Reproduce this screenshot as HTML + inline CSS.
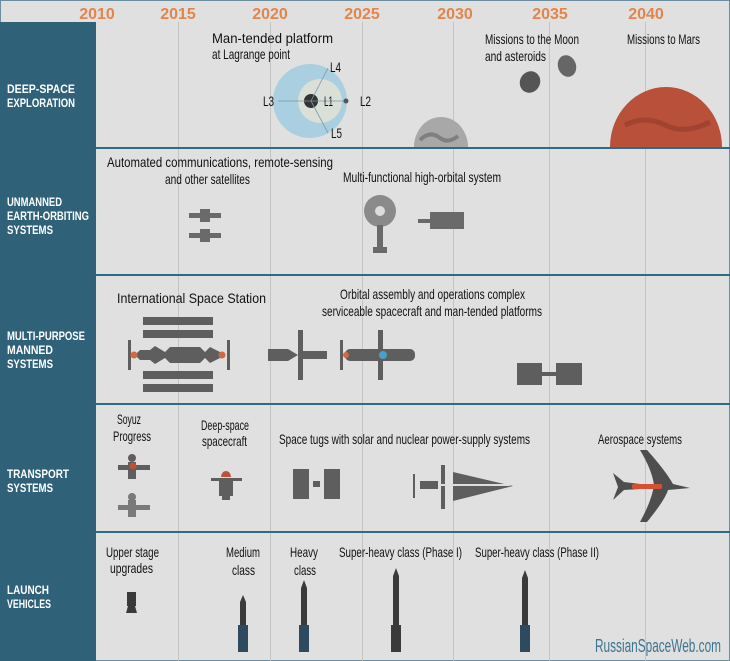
<!DOCTYPE html>
<html><head><meta charset="utf-8"><style>
html,body{margin:0;padding:0;background:#e0e0e0}
svg{display:block}
.t{font-family:"Liberation Sans",sans-serif;font-size:14px;fill:#111}
.l{font-family:"Liberation Sans",sans-serif;font-size:12px;font-weight:bold;fill:#fff}
.y{font-family:"Liberation Sans",sans-serif;font-size:16px;font-weight:bold;fill:#e3854a}
</style></head><body>
<svg width="730" height="661" viewBox="0 0 730 661" xmlns="http://www.w3.org/2000/svg">
<rect x="0" y="0" width="730" height="661" fill="#e0e0e0"/>
<rect x="0.5" y="0.5" width="729" height="660" fill="none" stroke="#6a8ea0"/>
<rect x="0" y="22" width="96" height="639" fill="#2f6179"/>
<g stroke="#c4c4c4" stroke-width="1">
<line x1="178.5" y1="22" x2="178.5" y2="661"/>
<line x1="270.5" y1="22" x2="270.5" y2="661"/>
<line x1="362.5" y1="22" x2="362.5" y2="661"/>
<line x1="453.5" y1="22" x2="453.5" y2="661"/>
<line x1="549.5" y1="22" x2="549.5" y2="661"/>
<line x1="645.5" y1="22" x2="645.5" y2="661"/>
</g>
<g stroke="#2f6a86" stroke-width="2">
<line x1="96" y1="148" x2="730" y2="148"/>
<line x1="96" y1="275" x2="730" y2="275"/>
<line x1="96" y1="404" x2="730" y2="404"/>
<line x1="96" y1="532" x2="730" y2="532"/>
</g>
<text class="y" x="97" y="19" text-anchor="middle">2010</text>
<text class="y" x="178" y="19" text-anchor="middle">2015</text>
<text class="y" x="270" y="19" text-anchor="middle">2020</text>
<text class="y" x="362" y="19" text-anchor="middle">2025</text>
<text class="y" x="455" y="19" text-anchor="middle">2030</text>
<text class="y" x="550" y="19" text-anchor="middle">2035</text>
<text class="y" x="646" y="19" text-anchor="middle">2040</text>
<text class="l" lengthAdjust="spacingAndGlyphs" x="7" y="93" textLength="68">DEEP-SPACE</text>
<text class="l" lengthAdjust="spacingAndGlyphs" x="7" y="107" textLength="68">EXPLORATION</text>
<text class="l" lengthAdjust="spacingAndGlyphs" x="7" y="206" textLength="55">UNMANNED</text>
<text class="l" lengthAdjust="spacingAndGlyphs" x="7" y="220" textLength="82">EARTH-ORBITING</text>
<text class="l" lengthAdjust="spacingAndGlyphs" x="7" y="234" textLength="46">SYSTEMS</text>
<text class="l" lengthAdjust="spacingAndGlyphs" x="7" y="340" textLength="78">MULTI-PURPOSE</text>
<text class="l" lengthAdjust="spacingAndGlyphs" x="7" y="354" textLength="46">MANNED</text>
<text class="l" lengthAdjust="spacingAndGlyphs" x="7" y="368" textLength="46">SYSTEMS</text>
<text class="l" lengthAdjust="spacingAndGlyphs" x="7" y="478" textLength="62">TRANSPORT</text>
<text class="l" lengthAdjust="spacingAndGlyphs" x="7" y="492" textLength="46">SYSTEMS</text>
<text class="l" lengthAdjust="spacingAndGlyphs" x="7" y="594" textLength="42">LAUNCH</text>
<text class="l" lengthAdjust="spacingAndGlyphs" x="7" y="608" textLength="44">VEHICLES</text>
<text class="t" lengthAdjust="spacingAndGlyphs" x="212" y="43" textLength="121">Man-tended platform</text>
<text class="t" lengthAdjust="spacingAndGlyphs" x="212" y="59" textLength="78">at Lagrange point</text>
<text class="t" lengthAdjust="spacingAndGlyphs" x="485" y="44" textLength="94">Missions to the Moon</text>
<text class="t" lengthAdjust="spacingAndGlyphs" x="485" y="61" textLength="61">and asteroids</text>
<text class="t" lengthAdjust="spacingAndGlyphs" x="627" y="44" textLength="73">Missions to Mars</text>
<circle cx="310" cy="101" r="37" fill="#a9cfe0"/>
<circle cx="320" cy="101" r="22" fill="#e6e2d6" opacity="0.8"/>
<circle cx="311" cy="101" r="7" fill="#333"/>
<g stroke="#7a98a8" stroke-width="0.8"><line x1="278" y1="101" x2="346" y2="101"/><line x1="311" y1="101" x2="328" y2="68"/><line x1="311" y1="101" x2="328" y2="133"/></g>
<circle cx="346" cy="101" r="2.5" fill="#555"/>
<text class="t" lengthAdjust="spacingAndGlyphs" x="330" y="72" font-size="11" textLength="11">L4</text>
<text class="t" lengthAdjust="spacingAndGlyphs" x="263" y="106" font-size="11" textLength="11">L3</text>
<text class="t" lengthAdjust="spacingAndGlyphs" x="324" y="106" font-size="11" textLength="9">L1</text>
<text class="t" lengthAdjust="spacingAndGlyphs" x="360" y="106" font-size="11" textLength="11">L2</text>
<text class="t" lengthAdjust="spacingAndGlyphs" x="331" y="138" font-size="11" textLength="11">L5</text>
<path d="M414 147 A27 30 0 0 1 468 147 Z" fill="#a8a8a8"/>
<path d="M420 140 q10 -10 20 -2 q8 6 18 -2" stroke="#555" stroke-width="4" fill="none" opacity="0.5"/>
<ellipse cx="530" cy="82" rx="10" ry="11" fill="#555" transform="rotate(30 530 82)"/>
<ellipse cx="567" cy="66" rx="9" ry="11" fill="#666" transform="rotate(-20 567 66)"/>
<path d="M610 147 A56 60 0 0 1 722 147 Z" fill="#b8503a"/>
<path d="M625 125 q20 -10 40 0 q20 10 45 -3" stroke="#8a3525" stroke-width="5" fill="none" opacity="0.5"/>
<text class="t" lengthAdjust="spacingAndGlyphs" x="107" y="167" textLength="226">Automated communications, remote-sensing</text>
<text class="t" lengthAdjust="spacingAndGlyphs" x="165" y="184" textLength="85">and other satellites</text>
<text class="t" lengthAdjust="spacingAndGlyphs" x="343" y="182" textLength="158">Multi-functional high-orbital system</text>
<g fill="#6a6a6a">
<rect x="189" y="213" width="32" height="5"/><rect x="200" y="209" width="10" height="13"/>
<rect x="189" y="233" width="32" height="5"/><rect x="200" y="229" width="10" height="13"/>
<circle cx="380" cy="211" r="16" fill="#8a8a8a"/><circle cx="380" cy="211" r="5" fill="#ddd"/>
<rect x="377" y="225" width="6" height="28"/><rect x="373" y="247" width="14" height="6"/>
<rect x="418" y="219" width="12" height="4"/>
<rect x="430" y="212" width="34" height="17"/>
</g>
<text class="t" lengthAdjust="spacingAndGlyphs" x="117" y="303" textLength="149">International Space Station</text>
<text class="t" lengthAdjust="spacingAndGlyphs" x="340" y="299" textLength="185">Orbital assembly and operations complex</text>
<text class="t" lengthAdjust="spacingAndGlyphs" x="322" y="316" textLength="220">serviceable spacecraft and man-tended platforms</text>
<g fill="#5e5e5e">
<rect x="143" y="317" width="70" height="8"/><rect x="143" y="330" width="70" height="8"/>
<rect x="143" y="371" width="70" height="8"/><rect x="143" y="384" width="70" height="8"/>
<rect x="128" y="340" width="3" height="30"/><rect x="227" y="340" width="3" height="30"/>
<path d="M135 355 L140 350 L150 350 L155 346 L165 352 L170 347 L200 347 L205 352 L210 347 L220 352 L225 355 L220 358 L210 363 L205 358 L200 363 L170 363 L165 358 L155 364 L150 360 L140 360 Z"/>
<circle cx="134" cy="355" r="3.5" fill="#d06a40"/><circle cx="222" cy="355" r="3.5" fill="#d06a40"/>
<rect x="268" y="349" width="20" height="12"/><path d="M288 349 L298 355 L288 361 Z"/>
<rect x="298" y="330" width="5" height="50"/><rect x="303" y="351" width="24" height="8"/>
<rect x="340" y="340" width="3" height="30"/><rect x="345" y="349" width="70" height="12" rx="5"/>
<rect x="378" y="330" width="5" height="50"/>
<circle cx="383" cy="355" r="4" fill="#4aa0c8"/><circle cx="346" cy="355" r="3" fill="#d06a40"/>
<rect x="517" y="363" width="25" height="22"/><rect x="542" y="372" width="14" height="4"/><rect x="556" y="363" width="26" height="22"/>
</g>
<text class="t" lengthAdjust="spacingAndGlyphs" x="117" y="424" textLength="24">Soyuz</text>
<text class="t" lengthAdjust="spacingAndGlyphs" x="113" y="441" textLength="38">Progress</text>
<text class="t" lengthAdjust="spacingAndGlyphs" x="201" y="430" textLength="48">Deep-space</text>
<text class="t" lengthAdjust="spacingAndGlyphs" x="202" y="446" textLength="45">spacecraft</text>
<text class="t" lengthAdjust="spacingAndGlyphs" x="279" y="444" textLength="251">Space tugs with solar and nuclear power-supply systems</text>
<text class="t" lengthAdjust="spacingAndGlyphs" x="598" y="444" textLength="84">Aerospace systems</text>
<g fill="#5e5e5e">
<circle cx="132" cy="458" r="4"/><rect x="118" y="465" width="32" height="5"/><rect x="128" y="462" width="8" height="17"/>
<circle cx="133" cy="466" r="3.5" fill="#c0503a"/>
<g fill="#7a7a7a"><circle cx="132" cy="497" r="4"/><rect x="118" y="505" width="32" height="5"/><rect x="128" y="500" width="8" height="17"/></g>
<rect x="211" y="478" width="31" height="3"/><rect x="219" y="481" width="14" height="15"/><rect x="222" y="496" width="8" height="4"/>
<path d="M221 477 A5 6 0 0 1 231 477 Z" fill="#c0503a"/>
<rect x="293" y="469" width="16" height="30"/><rect x="324" y="469" width="16" height="30"/><rect x="313" y="481" width="7" height="6"/>
<rect x="413" y="474" width="2" height="24"/><rect x="420" y="481" width="18" height="8"/>
<rect x="441" y="465" width="4" height="44"/>
<path d="M453 472 L513 486 L453 501 Z"/>
<rect x="440" y="484" width="70" height="2" fill="#ddd"/>
<path d="M640 450 Q652 470 654 485 Q652 500 640 522 L647 522 Q665 500 668 490 L690 488 L673 484 Q665 470 647 450 Z" fill="#4e4e4e"/>
<path d="M613 473 L624 482 L640 484 L640 489 L624 490 L613 500 L618 487 Z" fill="#4e4e4e"/>
<rect x="632" y="484" width="30" height="5" rx="2" fill="#d45030"/>
</g>
<text class="t" lengthAdjust="spacingAndGlyphs" x="106" y="557" textLength="53">Upper stage</text>
<text class="t" lengthAdjust="spacingAndGlyphs" x="110" y="573" textLength="43">upgrades</text>
<text class="t" lengthAdjust="spacingAndGlyphs" x="226" y="557" textLength="34">Medium</text>
<text class="t" lengthAdjust="spacingAndGlyphs" x="232" y="575" textLength="23">class</text>
<text class="t" lengthAdjust="spacingAndGlyphs" x="290" y="557" textLength="28">Heavy</text>
<text class="t" lengthAdjust="spacingAndGlyphs" x="294" y="575" textLength="22">class</text>
<text class="t" lengthAdjust="spacingAndGlyphs" x="339" y="557" textLength="123">Super-heavy class (Phase I)</text>
<text class="t" lengthAdjust="spacingAndGlyphs" x="475" y="557" textLength="124">Super-heavy class (Phase II)</text>
<g fill="#3a3a3a">
<rect x="127" y="592" width="9" height="14"/><path d="M128 606 L135 606 L137 613 L126 613 Z"/>
<path d="M243 595 L246 602 L246 650 L240 650 L240 602 Z"/>
<rect x="238" y="625" width="10" height="27" fill="#2e4a5e"/>
<path d="M304 580 L307 588 L307 650 L301 650 L301 588 Z"/>
<rect x="299" y="625" width="10" height="27" fill="#2e4a5e"/>
<path d="M396 568 L399 576 L399 650 L393 650 L393 576 Z"/>
<rect x="391" y="625" width="10" height="27"/>
<path d="M525 570 L528 578 L528 650 L522 650 L522 578 Z"/>
<rect x="520" y="625" width="10" height="27" fill="#2e4a5e"/>
</g>
<text lengthAdjust="spacingAndGlyphs" x="595" y="652" textLength="126" font-family="Liberation Sans, sans-serif" font-size="18" fill="#3d7590">RussianSpaceWeb.com</text>
</svg>
</body></html>
